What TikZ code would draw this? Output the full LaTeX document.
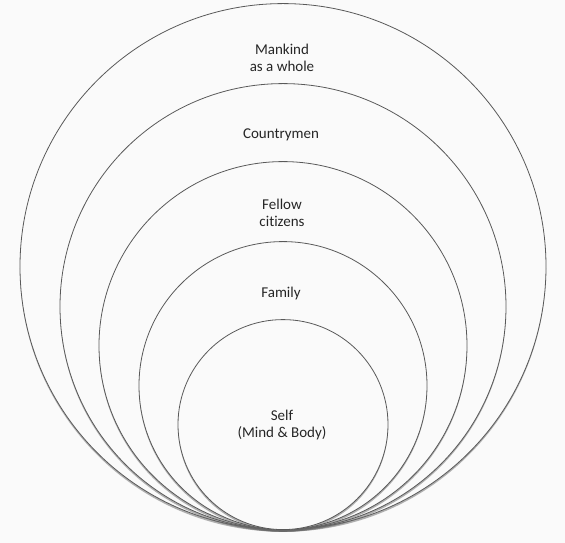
\documentclass[tikz,border=0pt]{standalone}
\usepackage{fontspec}
\setmainfont{Carlito}[Ligatures=CommonOff]
\usepackage{tikz}
\usepackage{xcolor}
\usetikzlibrary{positioning,shapes,shadows}

\definecolor{paper}{HTML}{FAFAFA}
\definecolor{ink}{HTML}{262626}

\begin{document}
\begin{tikzpicture}[x=1pt,y=1pt]
\tikzstyle{every node}+=[inner sep=0pt]
\tikzstyle{ring}=[circle, draw=black!65, line width=0.8pt, fill=paper, anchor=south,
  drop shadow={shadow xshift=0pt, shadow yshift=-2.2pt, opacity=0.5, fill=black!60}]
\tikzstyle{lbl}=[align=center, text=ink, font=\fontsize{15}{17.5}\selectfont]
\fill [paper] (-283,-13) rectangle (282,530);
\useasboundingbox (-283,-13) rectangle (282,530);
\coordinate (base) at (0,0);
% rings, outer to inner
\node [ring, minimum size=526] (mankind) at (base) {};
\node [ring, minimum size=446] (country) at (base) {};
\node [ring, minimum size=368] (citizens) at (base) {};
\node [ring, minimum size=288] (family) at (base) {};
\node [ring, minimum size=210] (self) at (base) {};
% labels
\node [lbl] (mankindtxt) at (-1,472) {Mankind\\as a whole};
\node [lbl] (countrytxt) at (-2,395) {Countrymen};
\node [lbl] (citizenstxt) at (-1,317) {Fellow\\citizens};
\node [lbl] (familytxt) at (-2,236) {Family};
\node [lbl] (selftxt) at (-1,105) {Self\\(Mind \& Body)};
\end{tikzpicture}
\end{document}
